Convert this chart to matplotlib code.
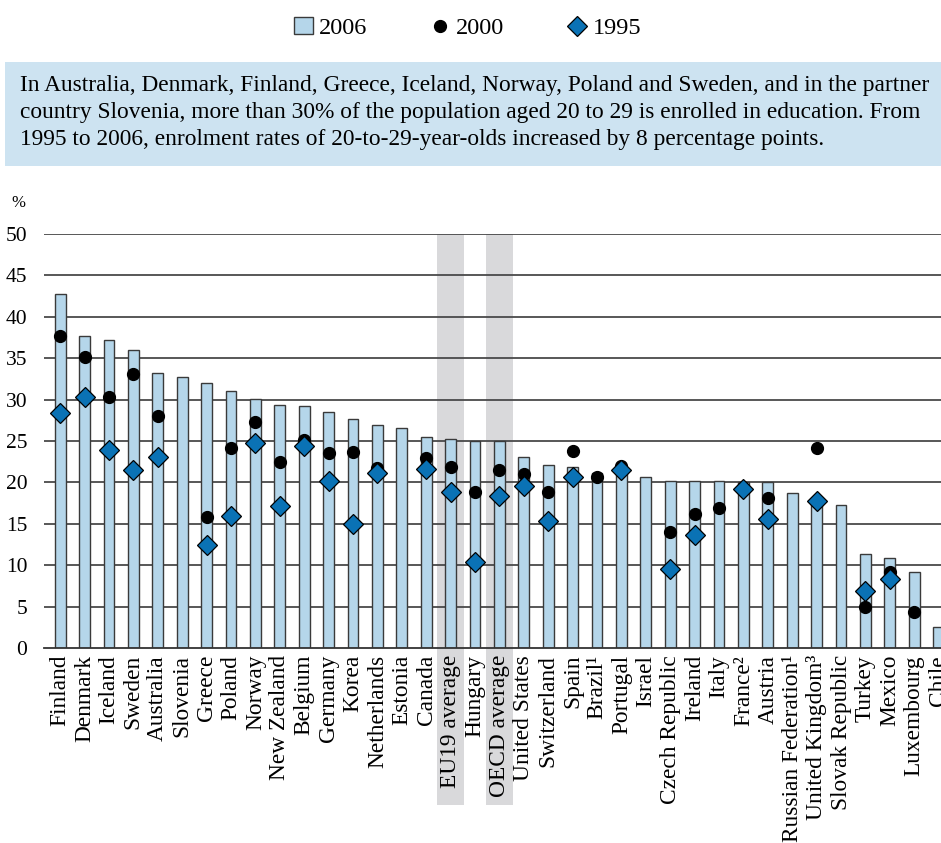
import numpy as np
import matplotlib.pyplot as plt
from matplotlib.patches import Rectangle
from matplotlib.lines import Line2D
from matplotlib.patches import Patch

plt.rcParams["font.family"] = ["Liberation Serif", "DejaVu Serif"]

countries = ["Finland", "Denmark", "Iceland", "Sweden", "Australia", "Slovenia",
             "Greece", "Poland", "Norway", "New Zealand", "Belgium", "Germany",
             "Korea", "Netherlands", "Estonia", "Canada", "EU19 average", "Hungary",
             "OECD average", "United States", "Switzerland", "Spain", "Brazil¹",
             "Portugal", "Israel", "Czech Republic", "Ireland", "Italy", "France²",
             "Austria", "Russian Federation¹", "United Kingdom³", "Slovak Republic",
             "Turkey", "Mexico", "Luxembourg", "Chile"]

nan = np.nan
rate_2006 = [42.8, 37.7, 37.2, 36.0, 33.2, 32.7, 32.0, 31.0, 30.1, 29.4, 29.2, 28.5,
             27.6, 26.9, 26.6, 25.5, 25.2, 25.0, 25.0, 23.1, 22.1, 21.9, 21.1, 21.3,
             20.6, 20.2, 20.2, 20.2, 20.1, 20.0, 18.7, 18.0, 17.3, 11.3, 10.9, 9.2, 2.5]
rate_2000 = [37.7, 35.2, 30.3, 33.1, 28.0, nan, 15.8, 24.2, 27.3, 22.5, 25.1, 23.5,
             23.7, 21.7, nan, 22.9, 21.9, 18.8, 21.5, 21.0, 18.8, 23.8, 20.6, 22.0,
             nan, 14.0, 16.2, 16.9, nan, 18.1, nan, 24.1, nan, 5.0, 9.2, 4.4, nan]
rate_1995 = [28.4, 30.3, 23.9, 21.5, 23.1, nan, 12.5, 16.0, 24.8, 17.2, 24.4, 20.2,
             15.0, 21.1, nan, 21.6, 18.9, 10.4, 18.4, 19.6, 15.4, 20.6, nan, 21.5,
             nan, 9.6, 13.6, nan, 19.2, 15.6, nan, 17.7, nan, 6.9, 8.3, nan, nan]
averages = ["EU19 average", "OECD average"]

note = ["In Australia, Denmark, Finland, Greece, Iceland, Norway, Poland and Sweden, and in the partner",
        "country Slovenia, more than 30% of the population aged 20 to 29 is enrolled in education. From",
        "1995 to 2006, enrolment rates of 20-to-29-year-olds increased by 8 percentage points."]

bar_color = "#b5d6ea"
diamond_color = "#0a72b5"

fig = plt.figure(figsize=(9.41, 8.43), dpi=100)
ax = fig.add_axes([0.0468, 0.2313, 0.9766, 0.4911])
ax.set_facecolor("none")

x = np.arange(len(countries))

# grey bands behind the two averages, running down through their labels
for name in averages:
    i = countries.index(name)
    ax.add_patch(Rectangle((i - 0.56, -19.0), 1.12, 69.0, facecolor="#d9d9db",
                           edgecolor="none", zorder=0.1, clip_on=False))

for v in range(5, 55, 5):
    ax.axhline(v, color="#4a4a4a", lw=1.3, zorder=1)

ax.bar(x, rate_2006, width=0.44, color=bar_color, edgecolor="#3a3a3a", lw=1.0, zorder=2)
ax.plot(x, rate_2000, "o", color="black", ms=8.5, zorder=3, ls="none")
ax.plot(x, rate_1995, "D", color=diamond_color, mec="black", mew=0.9, ms=10,
        zorder=4, ls="none")

ax.set_xlim(-0.66, 37)
ax.set_ylim(0, 50)
ax.set_yticks(range(0, 55, 5))
ax.set_xticks(x)
ax.set_xticklabels(countries, rotation=90, fontsize=16.8)
ax.tick_params(axis="y", length=0, pad=12, labelsize=15.5)
ax.tick_params(axis="x", length=0, pad=5)
for s in ["top", "right", "left"]:
    ax.spines[s].set_visible(False)
ax.spines["bottom"].set_color("#333333")
ax.spines["bottom"].set_linewidth(1.3)
ax.spines["bottom"].set_zorder(5)

fig.text(11 / 941, 1 - 203 / 843, "%", fontsize=12, ha="left", va="center")

# note box
fig.patches.append(Rectangle((5 / 941, 1 - 166 / 843), 1.0, 104 / 843,
                             transform=fig.transFigure, facecolor="#cde3f1",
                             edgecolor="none", zorder=0))
for k, line in enumerate(note):
    fig.text(20 / 941, 1 - (85 + 27.5 * k) / 843, line, fontsize=16.8,
             ha="left", va="center")

handles = [Patch(facecolor=bar_color, edgecolor="#3a3a3a", lw=1.0),
           Line2D([], [], marker="o", color="black", ms=8.5, ls="none"),
           Line2D([], [], marker="D", color=diamond_color, mec="black", mew=0.9,
                  ms=10, ls="none")]
fig.legend(handles, ["2006", "2000", "1995"], loc="center", ncol=3,
           bbox_to_anchor=(0.497, 1 - 28 / 843), frameon=False, fontsize=17.5,
           handlelength=0.8, handletextpad=0.25, columnspacing=2.6)

fig.savefig("out.png", dpi=100)
